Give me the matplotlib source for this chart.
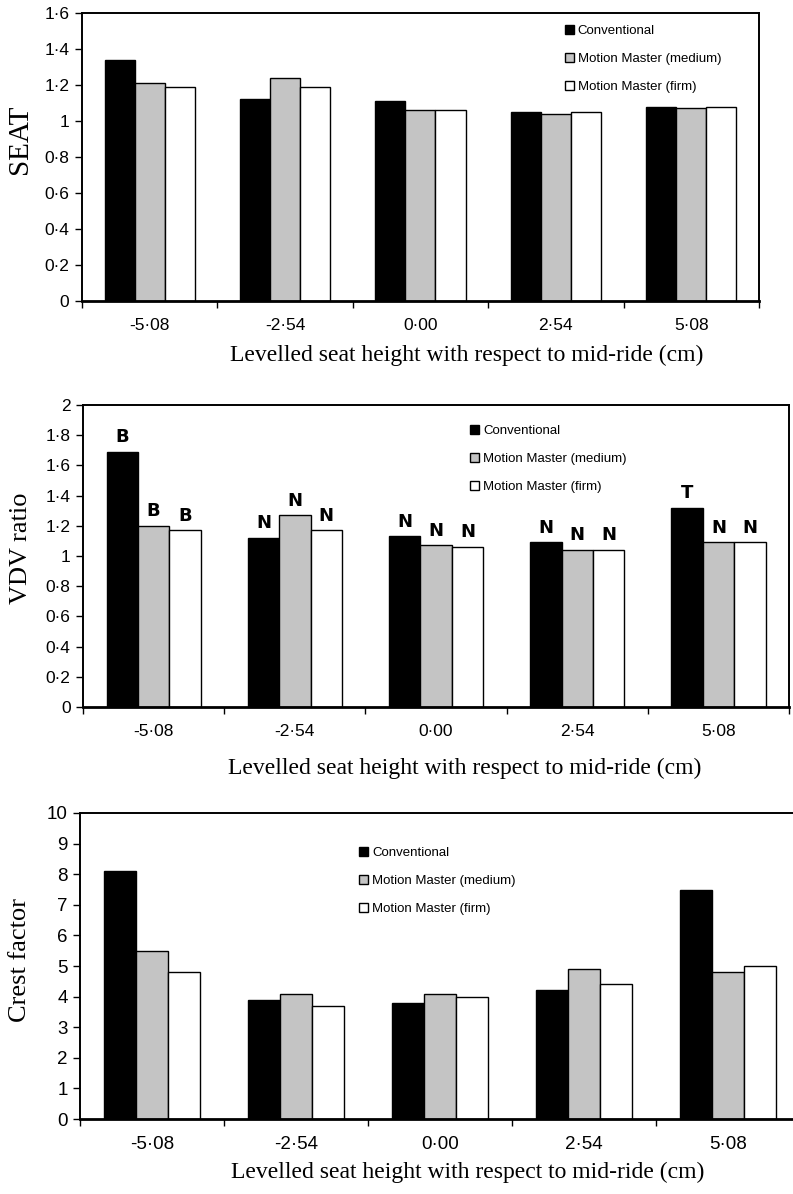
import numpy as np
import matplotlib
matplotlib.use("Agg")
import matplotlib.pyplot as plt
from matplotlib.patches import Patch

# Category labels (levelled seat height, cm)
heights = ['-5\u00b708', '-2\u00b754', '0\u00b700', '2\u00b754', '5\u00b708']
series_names = ['Conventional', 'Motion Master (medium)', 'Motion Master (firm)']

# SEAT values
seat_conv = [1.34, 1.12, 1.11, 1.05, 1.08]
seat_med = [1.21, 1.24, 1.06, 1.04, 1.07]
seat_firm = [1.19, 1.19, 1.06, 1.05, 1.08]

# VDV ratio values and the letters shown above each bar
vdv_conv = [1.69, 1.12, 1.13, 1.09, 1.32]
vdv_med = [1.20, 1.27, 1.07, 1.04, 1.09]
vdv_firm = [1.17, 1.17, 1.06, 1.04, 1.09]
vdv_marks_conv = ['B', 'N', 'N', 'N', 'T']
vdv_marks_med = ['B', 'N', 'N', 'N', 'N']
vdv_marks_firm = ['B', 'N', 'N', 'N', 'N']

# Crest factor values
crest_conv = [8.1, 3.9, 3.8, 4.2, 7.5]
crest_med = [5.5, 4.1, 4.1, 4.9, 4.8]
crest_firm = [4.8, 3.7, 4.0, 4.4, 5.0]

COLORS = ['#000000', '#c4c4c4', '#ffffff']
BAR_W = 1 / 4.5
SANS = 'Liberation Sans'
SERIF = 'Liberation Serif'
XLABEL = 'Levelled seat height with respect to mid-ride (cm)'


# Formats a tick value the way the journal prints it (middle dot as decimal point)
def dot_fmt(v, pos=None):
    return ('%g' % round(v, 3)).replace('.', '\u00b7')


# Draws one panel of grouped bars and returns the bar containers
def draw_panel(ax, series, ymax, ystep, ylabel, ylabel_size, tick_size, legend_pos, ylab_xy, xlab_xy):
    x = np.arange(len(heights))
    bars = []
    for i, vals in enumerate(series):
        b = ax.bar(x + (i - 1) * BAR_W, vals, BAR_W, color=COLORS[i],
                   edgecolor='black', linewidth=1.0, zorder=2)
        bars.append(b)
    ax.set_xlim(-0.5, len(heights) - 0.5)
    ax.set_ylim(0, ymax)
    ax.set_yticks(np.arange(0, ymax + ystep / 2, ystep))
    ax.yaxis.set_major_formatter(plt.FuncFormatter(dot_fmt))
    ax.set_xticks(x)
    ax.set_xticklabels(heights)
    ax.set_xticks(np.arange(-0.5, len(heights)), minor=True)
    ax.tick_params(axis='x', which='major', length=0, pad=12, labelsize=tick_size)
    ax.tick_params(axis='x', which='minor', length=5, width=1, direction='out')
    ax.tick_params(axis='y', length=5, width=1, pad=4, labelsize=tick_size)
    for lab in ax.get_xticklabels() + ax.get_yticklabels():
        lab.set_family(SANS)
    for side in ['top', 'left', 'right']:
        ax.spines[side].set_linewidth(1.4)
    ax.spines['bottom'].set_linewidth(2.0)
    ax.set_ylabel(ylabel, family=SERIF, fontsize=ylabel_size, va='center')
    ax.yaxis.set_label_coords(*ylab_xy)
    ax.set_xlabel(XLABEL, family=SERIF, fontsize=17, va='center')
    ax.xaxis.set_label_coords(*xlab_xy)
    handles = [Patch(facecolor=c, edgecolor='black', linewidth=1.0) for c in COLORS]
    ax.legend(handles, series_names, loc='upper left', bbox_to_anchor=legend_pos,
              frameon=False, borderpad=0, borderaxespad=0, handlelength=0.7,
              handleheight=0.7, handletextpad=0.3, labelspacing=1.2,
              prop={'family': SANS, 'size': 9.5})
    return bars


fig = plt.figure(figsize=(7.93, 11.94), dpi=100)

ax1 = fig.add_axes([0.1034, 0.7479, 0.8536, 0.2412])
draw_panel(ax1, [seat_conv, seat_med, seat_firm], 1.6, 0.2, 'SEAT', 21, 12.5,
           (0.713, 0.958), (-0.092, 0.56), (0.569, -0.1875))

ax2 = fig.add_axes([0.1047, 0.4079, 0.8903, 0.2529])
bars = draw_panel(ax2, [vdv_conv, vdv_med, vdv_firm], 2.0, 0.2, 'VDV ratio', 19, 12.5,
                  (0.548, 0.934), (-0.088, 0.526), (0.541, -0.202))
for b, marks in zip(bars, [vdv_marks_conv, vdv_marks_med, vdv_marks_firm]):
    for rect, m in zip(b, marks):
        ax2.annotate(m, (rect.get_x() + rect.get_width() / 2, rect.get_height()),
                     xytext=(0, 4), textcoords='offset points', ha='center',
                     va='bottom', fontsize=13, fontweight='bold', family='DejaVu Sans')

ax3 = fig.add_axes([0.1009, 0.0628, 0.9080, 0.2563])
draw_panel(ax3, [crest_conv, crest_med, crest_firm], 10, 1, 'Crest factor', 19, 13.5,
           (0.3875, 0.889), (-0.083, 0.52), (0.539, -0.173))

plt.savefig('out.png', dpi=100)
